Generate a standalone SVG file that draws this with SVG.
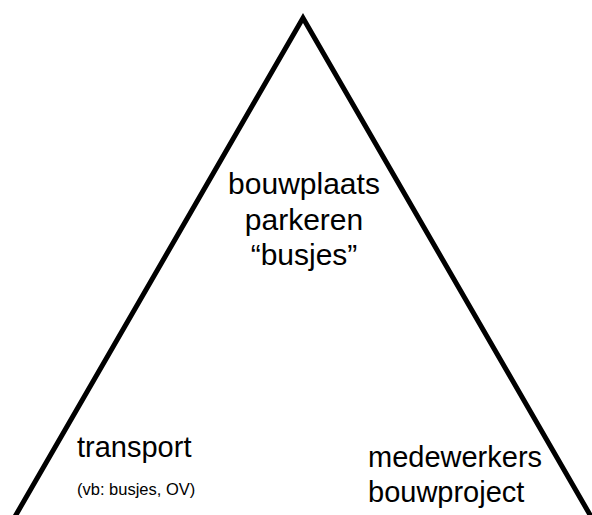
<svg xmlns="http://www.w3.org/2000/svg" width="592" height="515" viewBox="0 0 592 515">
<style>
.t{font-family:"Liberation Sans",Arial,sans-serif;fill:#000}
.edge{fill:none;stroke:#000;stroke-width:5;stroke-linejoin:miter}
</style>
<rect width="592" height="515" fill="#fff"/>
<g id="connectors">
<polyline class="edge" points="13,520 303,18 593,520"/>
</g>
<g id="top">
<text class="t" x="304" y="194" font-size="30" text-anchor="middle">bouwplaats</text>
<text class="t" x="304" y="230" font-size="30" text-anchor="middle">parkeren</text>
<text class="t" x="304" y="265" font-size="30" text-anchor="middle">“busjes”</text>
</g>
<g id="left">
<text class="t" x="77" y="457" font-size="29">transport</text>
<text class="t" x="77" y="495" font-size="16.5">(vb: busjes, OV)</text>
</g>
<g id="right">
<text class="t" x="368" y="467" font-size="29">medewerkers</text>
<text class="t" x="368" y="502" font-size="29">bouwproject</text>
</g>
</svg>
